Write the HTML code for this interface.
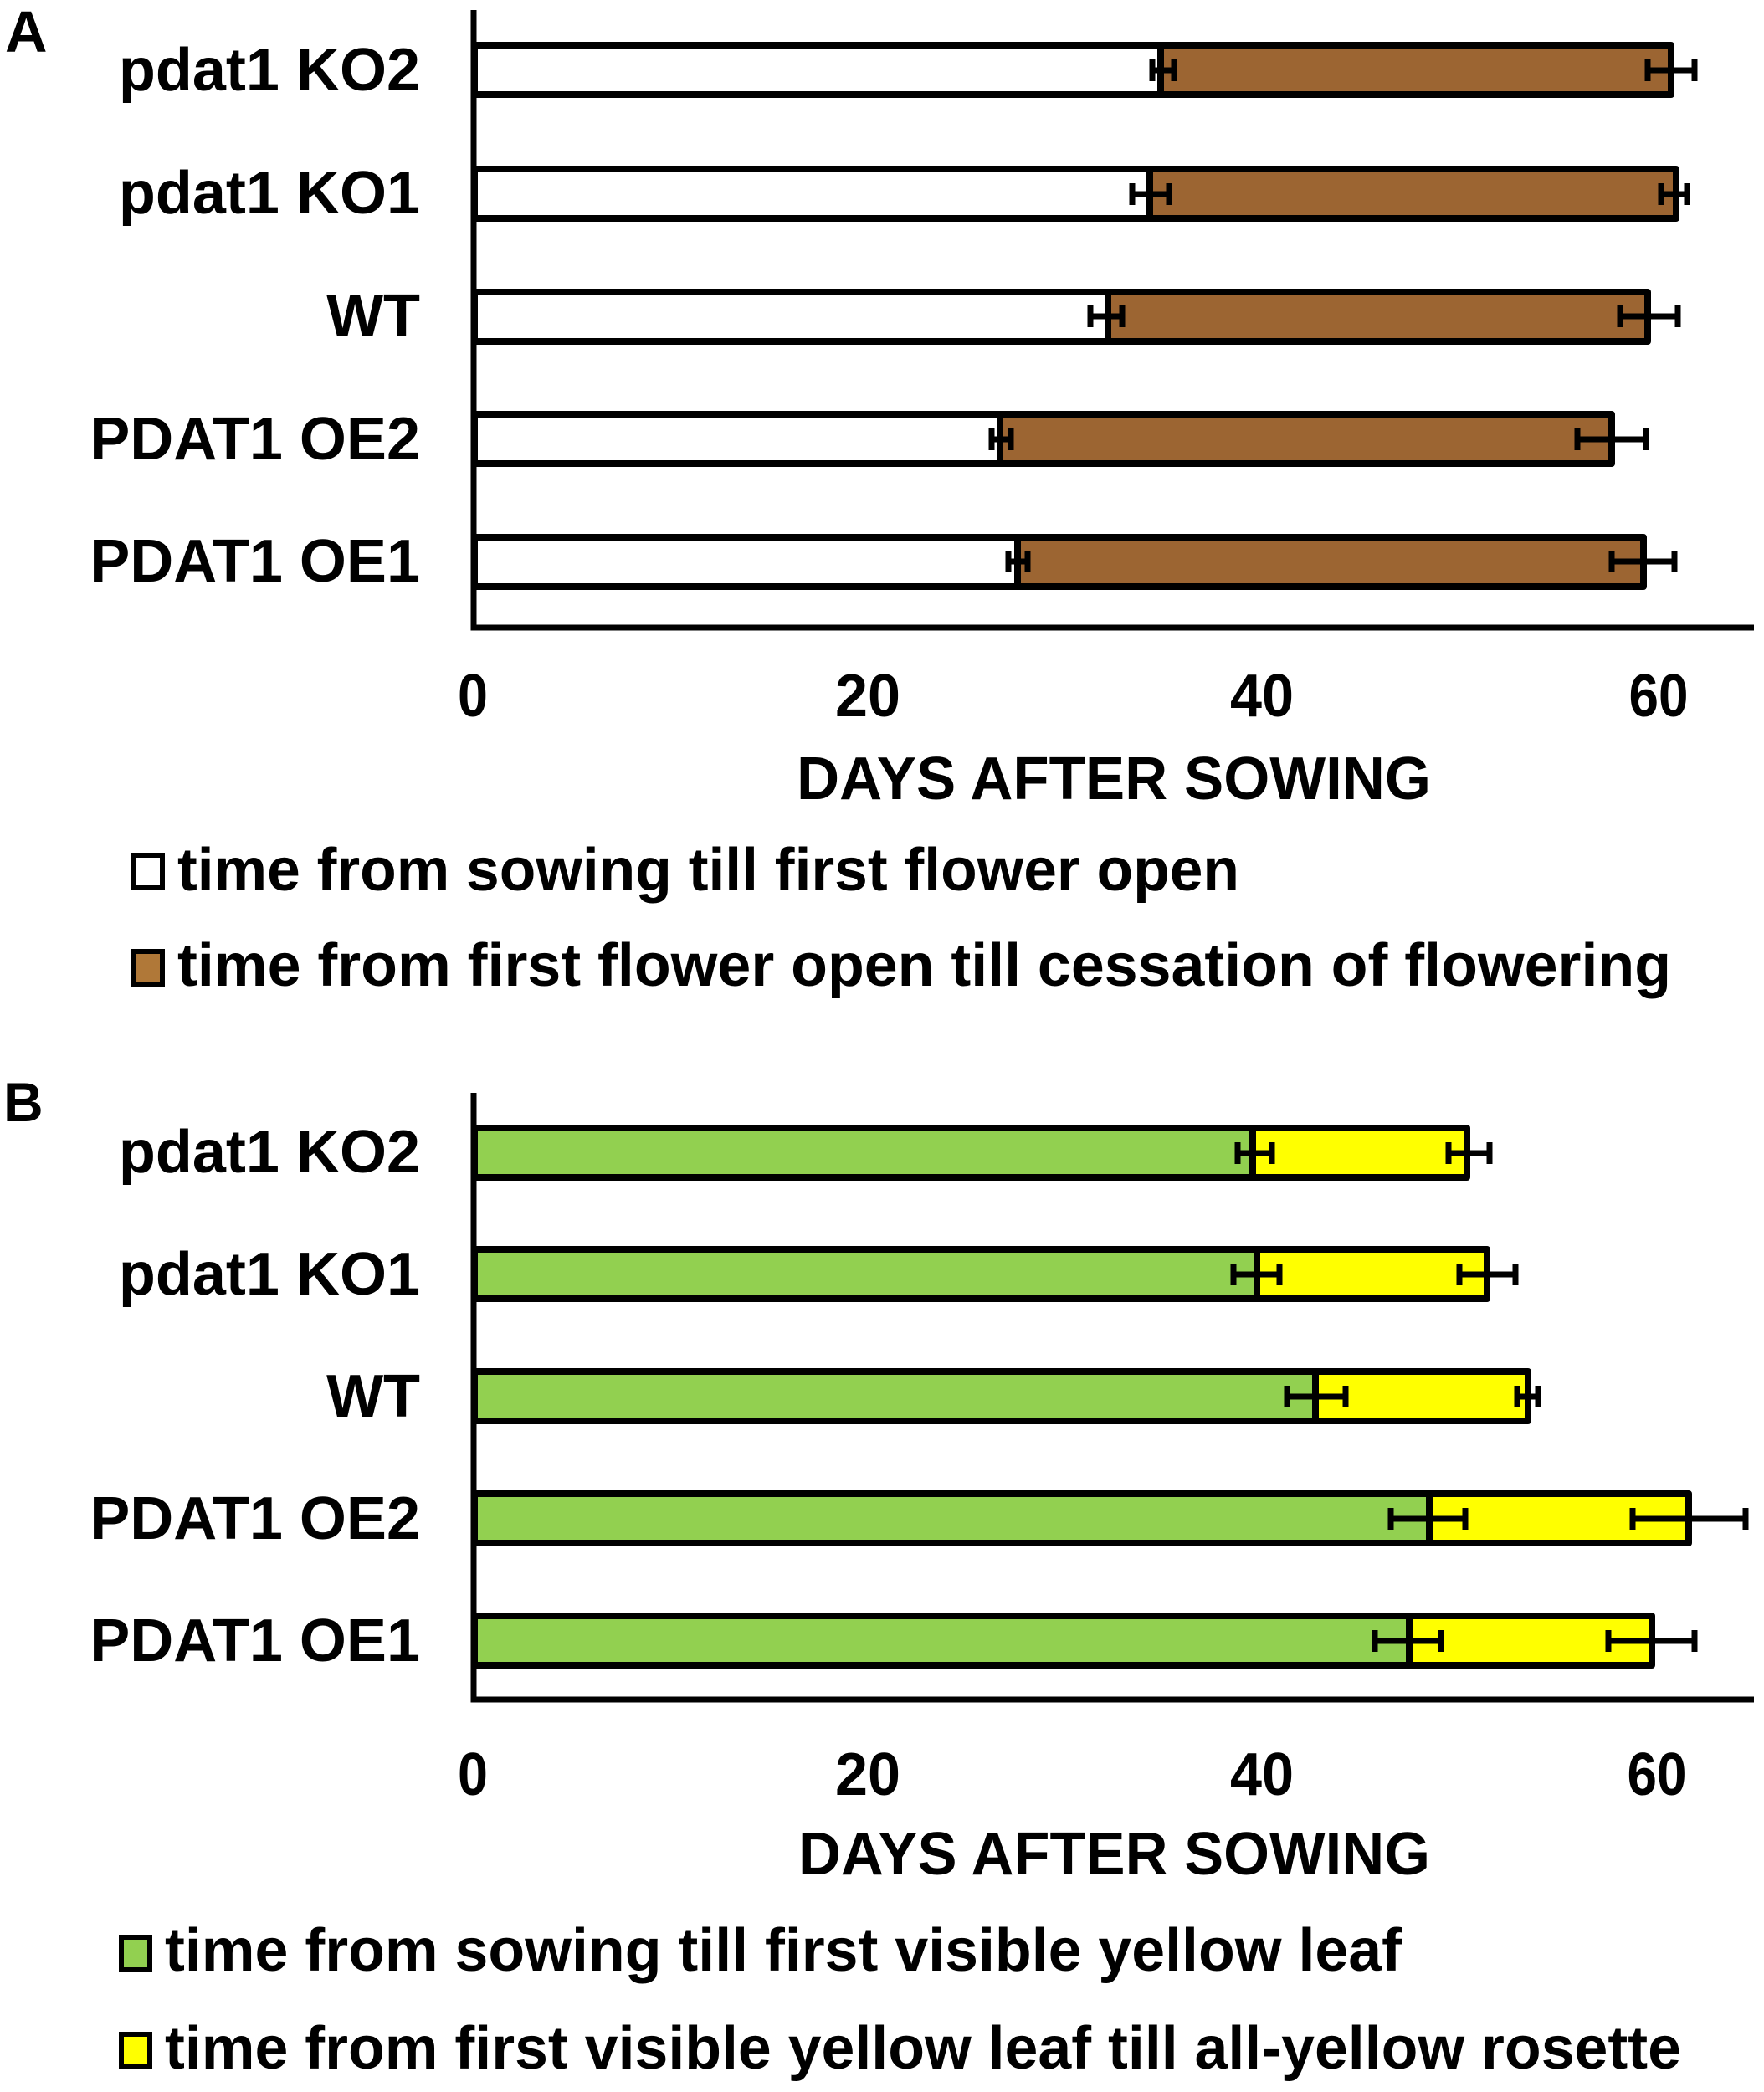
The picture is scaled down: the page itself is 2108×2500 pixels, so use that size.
<!DOCTYPE html>
<html><head><meta charset="utf-8"><style>html,body{margin:0;padding:0;background:#fff}svg{display:block}</style></head>
<body>
<svg width="2108" height="2500" viewBox="0 0 2108 2500" xmlns="http://www.w3.org/2000/svg" font-family="'Liberation Sans', Arial, sans-serif" font-weight="bold">
<rect width="2108" height="2500" fill="#fff"/>
<!-- Panel A -->
<text x="6" y="62" font-size="70">A</text>
<g font-size="72" text-anchor="end">
<text x="502" y="108">pdat1 KO2</text>
<text x="502" y="255">pdat1 KO1</text>
<text x="502" y="402">WT</text>
<text x="502" y="549">PDAT1 OE2</text>
<text x="502" y="695">PDAT1 OE1</text>
</g>
<g stroke="#000" stroke-width="8" stroke-linejoin="round">
<rect x="567" y="54" width="820" height="59" fill="#fff"/><rect x="1387" y="54" width="610" height="59" fill="#9C6532"/>
<rect x="567" y="202" width="807" height="59" fill="#fff"/><rect x="1374" y="202" width="629" height="59" fill="#9C6532"/>
<rect x="567" y="349" width="757" height="59" fill="#fff"/><rect x="1324" y="349" width="645" height="59" fill="#9C6532"/>
<rect x="567" y="495" width="628" height="59" fill="#fff"/><rect x="1195" y="495" width="731" height="59" fill="#9C6532"/>
<rect x="567" y="642" width="649" height="59" fill="#fff"/><rect x="1216" y="642" width="748" height="59" fill="#9C6532"/>
</g>
<g stroke="#000" stroke-width="7" fill="none">
<path d="M1377 84H1403M1377 71V97M1403 71V97 M1969 84H2025M1969 71V97M2025 71V97"/>
<path d="M1353 232H1397M1353 219V245M1397 219V245 M1985 232H2016M1985 219V245M2016 219V245"/>
<path d="M1303 378H1341M1303 365V391M1341 365V391 M1936 378H2005M1936 365V391M2005 365V391"/>
<path d="M1185 525H1208M1185 512V538M1208 512V538 M1885 525H1967M1885 512V538M1967 512V538"/>
<path d="M1205 671H1228M1205 658V684M1228 658V684 M1926 671H2001M1926 658V684M2001 658V684"/>
</g>
<path d="M566 12V750H2096" stroke="#000" stroke-width="7" fill="none"/>
<g font-size="72" text-anchor="middle">
<text x="565" y="856" textLength="36" lengthAdjust="spacingAndGlyphs">0</text>
<text x="1037" y="856" textLength="78" lengthAdjust="spacingAndGlyphs">20</text>
<text x="1508" y="856" textLength="76" lengthAdjust="spacingAndGlyphs">40</text>
<text x="1982" y="856" textLength="71" lengthAdjust="spacingAndGlyphs">60</text>
</g>
<text x="952" y="955" font-size="72" textLength="758" lengthAdjust="spacingAndGlyphs">DAYS AFTER SOWING</text>
<rect x="160" y="1022" width="34" height="39" fill="#fff" stroke="#000" stroke-width="6"/>
<text x="212" y="1064" font-size="72" textLength="1269" lengthAdjust="spacingAndGlyphs">time from sowing till first flower open</text>
<rect x="160" y="1137" width="34" height="39" fill="#B07838" stroke="#000" stroke-width="6"/>
<text x="212" y="1178" font-size="72" textLength="1785" lengthAdjust="spacingAndGlyphs">time from first flower open till cessation of flowering</text>
<!-- Panel B -->
<text x="4" y="1340" font-size="66">B</text>
<g font-size="72" text-anchor="end">
<text x="502" y="1401">pdat1 KO2</text>
<text x="502" y="1547">pdat1 KO1</text>
<text x="502" y="1693">WT</text>
<text x="502" y="1839">PDAT1 OE2</text>
<text x="502" y="1985">PDAT1 OE1</text>
</g>
<g stroke="#000" stroke-width="8" stroke-linejoin="round">
<rect x="567" y="1348" width="930" height="59" fill="#92D050"/><rect x="1497" y="1348" width="256" height="59" fill="#FFFF00"/>
<rect x="567" y="1493" width="935" height="59" fill="#92D050"/><rect x="1502" y="1493" width="275" height="59" fill="#FFFF00"/>
<rect x="567" y="1639" width="1005" height="59" fill="#92D050"/><rect x="1572" y="1639" width="254" height="59" fill="#FFFF00"/>
<rect x="567" y="1785" width="1141" height="59" fill="#92D050"/><rect x="1708" y="1785" width="310" height="59" fill="#FFFF00"/>
<rect x="567" y="1931" width="1117" height="59" fill="#92D050"/><rect x="1684" y="1931" width="290" height="59" fill="#FFFF00"/>
</g>
<g stroke="#000" stroke-width="7" fill="none">
<path d="M1479 1378H1520M1479 1365V1391M1520 1365V1391 M1731 1378H1780M1731 1365V1391M1780 1365V1391"/>
<path d="M1474 1523H1529M1474 1510V1536M1529 1510V1536 M1744 1523H1811M1744 1510V1536M1811 1510V1536"/>
<path d="M1538 1669H1608M1538 1656V1682M1608 1656V1682 M1813 1669H1838M1813 1656V1682M1838 1656V1682"/>
<path d="M1662 1815H1751M1662 1802V1828M1751 1802V1828 M1951 1815H2086M1951 1802V1828M2086 1802V1828"/>
<path d="M1643 1961H1722M1643 1948V1974M1722 1948V1974 M1922 1961H2025M1922 1948V1974M2025 1948V1974"/>
</g>
<path d="M566 1306V2031H2096" stroke="#000" stroke-width="7" fill="none"/>
<g font-size="72" text-anchor="middle">
<text x="565" y="2145" textLength="36" lengthAdjust="spacingAndGlyphs">0</text>
<text x="1037" y="2145" textLength="78" lengthAdjust="spacingAndGlyphs">20</text>
<text x="1508" y="2145" textLength="76" lengthAdjust="spacingAndGlyphs">40</text>
<text x="1980" y="2145" textLength="71" lengthAdjust="spacingAndGlyphs">60</text>
</g>
<text x="954" y="2240" font-size="72" textLength="755" lengthAdjust="spacingAndGlyphs">DAYS AFTER SOWING</text>
<rect x="145" y="2315" width="34" height="39" fill="#92D050" stroke="#000" stroke-width="6"/>
<text x="197" y="2355" font-size="72" textLength="1478" lengthAdjust="spacingAndGlyphs">time from sowing till first visible yellow leaf</text>
<rect x="145" y="2431" width="34" height="39" fill="#FFFF00" stroke="#000" stroke-width="6"/>
<text x="197" y="2472" font-size="72" textLength="1812" lengthAdjust="spacingAndGlyphs">time from first visible yellow leaf till all-yellow rosette</text>
</svg>
</body></html>
